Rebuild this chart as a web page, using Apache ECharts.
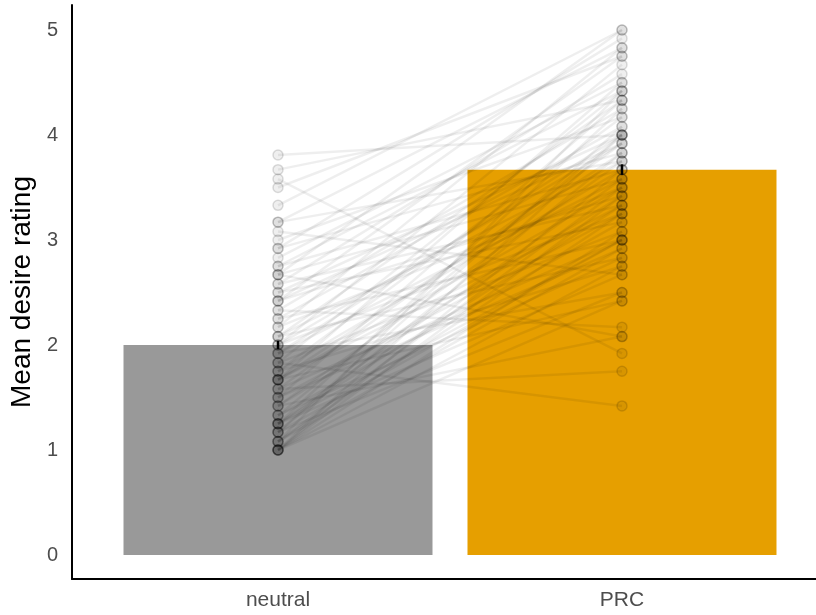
<!DOCTYPE html>
<html><head><meta charset="utf-8">
<script src="https://cdn.jsdelivr.net/npm/echarts@6/dist/echarts.min.js"></script>
<style>html,body{margin:0;padding:0;background:#fff}#c{width:816px;height:615px}</style>
</head><body><div id="c"></div>
<script>
// Conditions and bar summaries
const categories = ['neutral', 'PRC'];
const means = [2.00, 3.67];
const errors = [0.04, 0.05];
const barColors = ['#999999', '#E69F00'];
const yTicks = [0, 1, 2, 3, 4, 5];

// Per-participant ratings (paired by index)
const neutralRatings = [
  1.00,1.00,1.00,1.00,1.00,1.00,
  1.08,1.08,1.08,1.08,
  1.17,1.17,1.17,1.17,
  1.25,1.25,1.25,1.25,1.25,
  1.33,1.33,1.33,
  1.42,1.42,1.42,
  1.50,1.50,1.50,
  1.58,1.58,1.58,
  1.67,1.67,1.67,1.67,1.67,
  1.75,1.75,1.75,
  1.83,1.83,1.83,
  1.92,1.92,1.92,
  2.00,2.00,2.00,
  2.08,2.08,2.08,
  2.17,2.17,
  2.25,2.25,
  2.33,2.33,
  2.42,2.42,2.42,
  2.50,2.50,
  2.58,2.58,
  2.67,2.67,2.67,
  2.75,2.75,
  2.83,
  2.92,2.92,
  3.00,
  3.08,
  3.17,3.17,
  3.33,
  3.50,
  3.58,
  3.67,
  3.81
];
const prcRatings = [
  2.75,3.42,4.00,3.08,2.42,3.67,
  3.25,4.42,2.92,3.50,
  3.00,3.83,2.50,4.08,
  3.33,2.67,4.25,3.00,3.58,
  2.83,4.00,3.17,
  3.75,2.08,3.42,
  4.33,2.92,3.25,
  3.92,1.75,3.00,
  3.50,4.50,2.42,3.33,3.83,
  4.17,2.75,3.67,
  3.08,4.42,1.42,
  4.00,3.58,2.50,
  4.67,3.25,3.92,
  2.83,4.33,3.75,
  4.83,3.50,
  3.00,4.08,
  4.25,2.17,
  4.75,3.42,3.92,
  4.00,3.17,
  4.58,3.33,
  5.00,3.58,2.08,
  4.42,3.67,
  4.50,
  4.92,3.83,
  4.17,
  2.67,
  4.83,3.75,
  5.00,
  4.75,
  1.92,
  4.33,
  4.00
];

const xPos = [1, 2];
const chart = echarts.init(document.getElementById('c'), null, {renderer: 'canvas'});

const barData = means.map((m, i) => ({value: [xPos[i], m], itemStyle: {color: barColors[i]}}));
const lineData = neutralRatings.map((n, i) => ({coords: [[xPos[0], n], [xPos[1], prcRatings[i]]]}));
const pointData = [];
neutralRatings.forEach(v => pointData.push([xPos[0], v]));
prcRatings.forEach(v => pointData.push([xPos[1], v]));
const errData = means.map((m, i) => [xPos[i], m - errors[i], m + errors[i]]);
const font = 'Liberation Sans, Arial, sans-serif';

chart.setOption({
  animation: false,
  backgroundColor: '#ffffff',
  grid: {left: 72, right: 0, top: 5, bottom: 36, containLabel: false},
  xAxis: {
    type: 'value', min: 0.4012, max: 2.564,
    axisLine: {show: true, onZero: false, lineStyle: {color: '#000', width: 2}},
    axisTick: {show: false},
    splitLine: {show: false},
    axisLabel: {
      customValues: xPos,
      formatter: v => categories[Math.round(v) - 1] || '',
      color: '#4d4d4d', fontSize: 21, margin: 11, fontFamily: font
    }
  },
  yAxis: {
    type: 'value', min: -0.2286, max: 5.238,
    name: 'Mean desire rating', nameLocation: 'middle', nameGap: 32,
    nameTextStyle: {color: '#000', fontSize: 28, fontFamily: font},
    axisLine: {show: true, onZero: false, lineStyle: {color: '#000', width: 2}},
    axisTick: {show: false},
    splitLine: {show: false},
    axisLabel: {
      customValues: yTicks,
      color: '#4d4d4d', fontSize: 20, margin: 14, fontFamily: font
    }
  },
  series: [
    {type: 'bar', data: barData, barWidth: 309, z: 1},
    {type: 'lines', coordinateSystem: 'cartesian2d', data: lineData, z: 3,
     lineStyle: {color: 'rgba(0,0,0,0.065)', width: 2.5, opacity: 1}},
    {type: 'scatter', data: pointData, symbol: 'circle', symbolSize: 10, z: 4,
     itemStyle: {color: 'rgba(0,0,0,0.08)', borderColor: 'rgba(0,0,0,0.17)', borderWidth: 1.5}},
    {type: 'custom', data: errData, z: 5,
     renderItem: (params, api) => {
       const lo = api.coord([api.value(0), api.value(1)]);
       const hi = api.coord([api.value(0), api.value(2)]);
       return {type: 'line', shape: {x1: lo[0], y1: lo[1], x2: hi[0], y2: hi[1]},
               style: {stroke: '#000', lineWidth: 2.5}};
     }}
  ]
});
</script>
</body></html>
